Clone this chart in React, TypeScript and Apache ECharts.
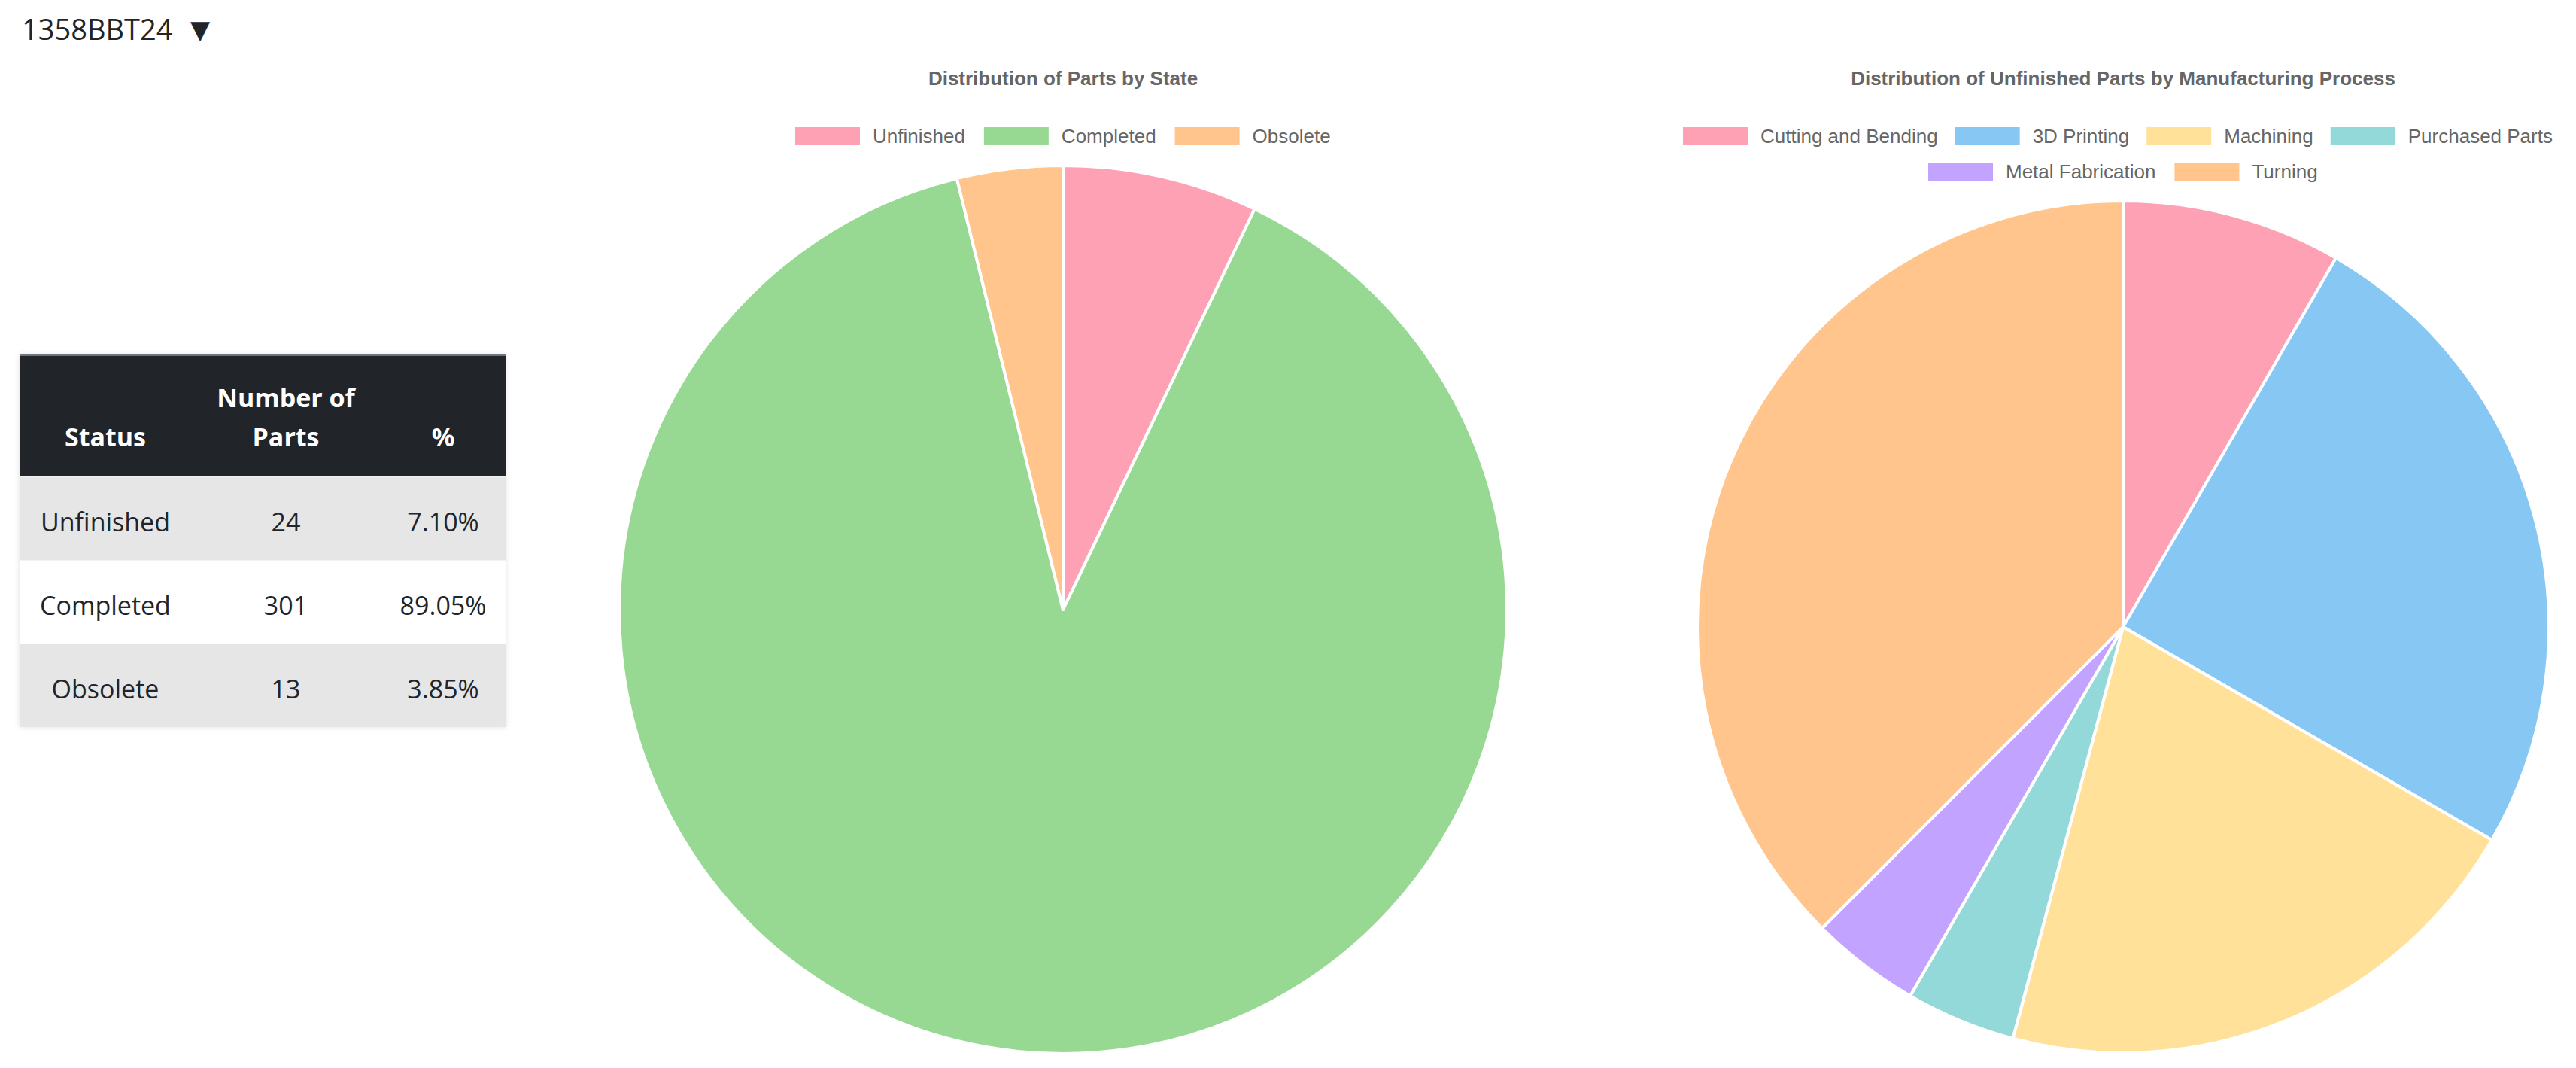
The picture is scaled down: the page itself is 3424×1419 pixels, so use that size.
import React, { useEffect, useRef } from "react";
import * as echarts from "echarts";

const pageHeading = "1358BBT24";
const stateTitle = "Distribution of Parts by State";
const processTitle = "Distribution of Unfinished Parts by Manufacturing Process";

const stateCategories = ["Unfinished", "Completed", "Obsolete"];
const stateCounts = [24, 301, 13];
const stateColors = ["#FFA1B5", "#97D993", "#FFC58C"];

const processCategories = [
  "Cutting and Bending",
  "3D Printing",
  "Machining",
  "Purchased Parts",
  "Metal Fabrication",
  "Turning",
];
const processCounts = [2, 6, 5, 1, 1, 9];
const processColors = ["#FFA1B5", "#86C7F3", "#FFE19A", "#93D9D9", "#C2A3FF", "#FFC58C"];

const tableHeaders = ["Status", "Number of Parts", "%"];

const FONT_CHART = "'Liberation Sans', Arial, Helvetica, sans-serif";
const FONT_PAGE = "'Open Sans', 'Noto Sans', sans-serif";

function Chart() {
  const ref = useRef<HTMLDivElement | null>(null);
  useEffect(() => {
    if (!ref.current) return;
    const chart = echarts.init(ref.current, undefined, { renderer: "svg" });
    const legendText = {
      fontSize: 26,
      color: "#666",
      fontFamily: FONT_CHART,
      padding: [0, 0, 0, 12],
      lineHeight: 24,
    };
    const legendBase = {
      orient: "horizontal",
      icon: "rect",
      itemWidth: 86,
      itemHeight: 24,
      itemGap: 25,
      padding: 0,
      selectedMode: false,
      itemStyle: { borderWidth: 0 },
      textStyle: legendText,
      width: 1400,
    };
    chart.setOption({
      animation: false,
      backgroundColor: "#ffffff",
      title: [
        {
          text: stateTitle,
          left: 1413,
          top: 104,
          padding: 0,
          textAlign: "center",
          textVerticalAlign: "middle",
          textStyle: { fontSize: 26, fontWeight: "bold", color: "#666", fontFamily: FONT_CHART },
        },
        {
          text: processTitle,
          left: 2822,
          top: 104,
          padding: 0,
          textAlign: "center",
          textVerticalAlign: "middle",
          textStyle: { fontSize: 26, fontWeight: "bold", color: "#666", fontFamily: FONT_CHART },
        },
      ],
      legend: [
        { ...legendBase, left: 1057, top: 168, data: stateCategories },
        { ...legendBase, itemGap: 23, left: 2237, top: 168, data: processCategories.slice(0, 4) },
        { ...legendBase, left: 2563, top: 215, data: processCategories.slice(4) },
      ],
      series: [
        {
          type: "pie",
          center: [1413, 810],
          radius: 590,
          startAngle: 90,
          clockwise: true,
          label: { show: false },
          labelLine: { show: false },
          emphasis: { disabled: true },
          itemStyle: { borderColor: "#ffffff", borderWidth: 4 },
          data: stateCategories.map((name, i) => ({
            name,
            value: stateCounts[i],
            itemStyle: { color: stateColors[i] },
          })),
        },
        {
          type: "pie",
          center: [2822, 833],
          radius: 566,
          startAngle: 90,
          clockwise: true,
          label: { show: false },
          labelLine: { show: false },
          emphasis: { disabled: true },
          itemStyle: { borderColor: "#ffffff", borderWidth: 4 },
          data: processCategories.map((name, i) => ({
            name,
            value: processCounts[i],
            itemStyle: { color: processColors[i] },
          })),
        },
      ],
    });
    return () => chart.dispose();
  }, []);
  return (
    <div
      ref={ref}
      style={{ position: "absolute", left: 0, top: 0, width: 3424, height: 1419 }}
    />
  );
}

function Cell(props: {
  left: number;
  width: number;
  baseline: number;
  text: string;
  bold?: boolean;
  color: string;
}) {
  const size = 34;
  const lh = 52;
  const top = props.baseline - (lh / 2 + 0.388 * size);
  return (
    <div
      style={{
        position: "absolute",
        left: props.left,
        width: props.width,
        top,
        height: lh,
        lineHeight: lh + "px",
        fontSize: size,
        fontFamily: FONT_PAGE,
        fontWeight: props.bold ? 700 : 400,
        color: props.color,
        textAlign: "center",
        whiteSpace: "nowrap",
      }}
    >
      {props.text}
    </div>
  );
}

function StatusTable() {
  const total = stateCounts.reduce((a, b) => a + b, 0);
  const tableLeft = 26;
  const tableTop = 471;
  const tableWidth = 646;
  const headerHeight = 162;
  const rowHeight = 111;
  const cols = [
    { left: 0, width: 228 },
    { left: 228, width: 252 },
    { left: 480, width: 166 },
  ];
  const headWords = tableHeaders[1].split(" ");
  const headLine1 = headWords.slice(0, 2).join(" ");
  const headLine2 = headWords.slice(2).join(" ");
  return (
    <div
      style={{
        position: "absolute",
        left: tableLeft,
        top: tableTop,
        width: tableWidth,
        height: headerHeight + rowHeight * stateCategories.length,
        boxShadow: "0 0 8px rgba(0,0,0,0.12)",
        background: "#fff",
      }}
    >
      <div
        style={{
          position: "absolute",
          left: 0,
          top: 0,
          width: tableWidth,
          height: headerHeight,
          background: "#212529",
          borderTop: "2px solid #6f7479",
          boxSizing: "border-box",
        }}
      />
      <Cell left={cols[0].left} width={cols[0].width} baseline={122} text={tableHeaders[0]} bold color="#fff" />
      <Cell left={cols[1].left} width={cols[1].width} baseline={70} text={headLine1} bold color="#fff" />
      <Cell left={cols[1].left} width={cols[1].width} baseline={122} text={headLine2} bold color="#fff" />
      <Cell left={cols[2].left} width={cols[2].width} baseline={122} text={tableHeaders[2]} bold color="#fff" />
      {stateCategories.map((name, i) => {
        const top = headerHeight + i * rowHeight;
        const pct = ((stateCounts[i] / total) * 100).toFixed(2) + "%";
        const base = top + 73;
        return (
          <React.Fragment key={name}>
            <div
              style={{
                position: "absolute",
                left: 0,
                top,
                width: tableWidth,
                height: rowHeight,
                background: i % 2 === 0 ? "#e6e6e6" : "#ffffff",
                borderTop: "1px solid #f2f2f2",
                boxSizing: "border-box",
              }}
            />
            <Cell left={cols[0].left} width={cols[0].width} baseline={base} text={name} color="#212529" />
            <Cell left={cols[1].left} width={cols[1].width} baseline={base} text={String(stateCounts[i])} color="#212529" />
            <Cell left={cols[2].left} width={cols[2].width} baseline={base} text={pct} color="#212529" />
          </React.Fragment>
        );
      })}
    </div>
  );
}

export default function App() {
  return (
    <div
      style={{
        position: "fixed",
        left: 0,
        top: 0,
        width: 3424,
        height: 1419,
        overflow: "hidden",
        background: "#fff",
      }}
    >
      <Chart />
      <div
        style={{
          position: "absolute",
          left: 29,
          top: 19,
          fontFamily: FONT_PAGE,
          fontSize: 38,
          lineHeight: "38px",
          color: "#212529",
          whiteSpace: "nowrap",
        }}
      >
        {pageHeading}
      </div>
      <div
        style={{
          position: "absolute",
          left: 253,
          top: 20,
          fontFamily: "'DejaVu Sans', sans-serif",
          fontSize: 34,
          lineHeight: "38px",
          color: "#212529",
        }}
      >
        ▼
      </div>
      <StatusTable />
    </div>
  );
}
